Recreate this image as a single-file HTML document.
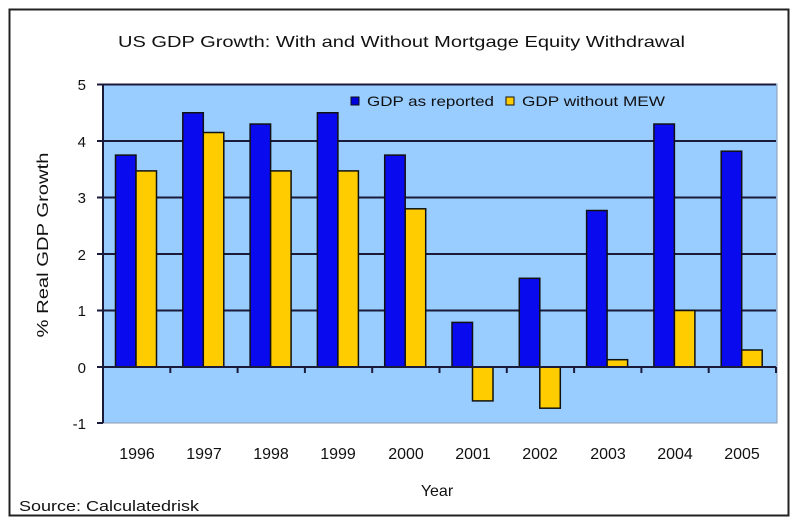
<!DOCTYPE html>
<html><head><meta charset="utf-8"><style>html,body{margin:0;padding:0;background:#fff}svg{display:block}</style></head>
<body>
<svg width="800" height="526" viewBox="0 0 800 526" xmlns="http://www.w3.org/2000/svg" font-family="Liberation Sans, sans-serif">
<rect x="0" y="0" width="800" height="526" fill="#fff"/>
<rect x="9.5" y="9.5" width="779" height="506" fill="#fff" stroke="#222" stroke-width="2"/>
<text x="118" y="47" font-size="16" textLength="567" lengthAdjust="spacingAndGlyphs" fill="#111">US GDP Growth: With and Without Mortgage Equity Withdrawal</text>
<rect x="103" y="84" width="674" height="339" fill="#99ccff" stroke="#8a9bb0" stroke-width="1"/>
<g stroke="#1a1a3a" stroke-width="2">
<line x1="97" y1="84.5" x2="776" y2="84.5"/>
<line x1="97" y1="141" x2="776" y2="141"/>
<line x1="97" y1="197.5" x2="776" y2="197.5"/>
<line x1="97" y1="254" x2="776" y2="254"/>
<line x1="97" y1="310.5" x2="776" y2="310.5"/>
<line x1="97" y1="423" x2="103" y2="423"/>
<line x1="103" y1="84" x2="103" y2="423"/>
</g>
<g stroke="#111" stroke-width="1.5">
<rect x="115.5" y="155.1" width="20.5" height="211.9" fill="#0a0aee"/>
<rect x="136" y="170.9" width="20.5" height="196.1" fill="#ffcc00"/>
<rect x="182.8" y="112.75" width="20.5" height="254.25" fill="#0a0aee"/>
<rect x="203.3" y="132.5" width="20.5" height="234.5" fill="#ffcc00"/>
<rect x="250.1" y="124.05" width="20.5" height="242.95" fill="#0a0aee"/>
<rect x="270.6" y="170.9" width="20.5" height="196.1" fill="#ffcc00"/>
<rect x="317.4" y="112.75" width="20.5" height="254.25" fill="#0a0aee"/>
<rect x="337.9" y="170.9" width="20.5" height="196.1" fill="#ffcc00"/>
<rect x="384.7" y="155.1" width="20.5" height="211.9" fill="#0a0aee"/>
<rect x="405.2" y="208.8" width="20.5" height="158.2" fill="#ffcc00"/>
<rect x="452" y="322.4" width="20.5" height="44.6" fill="#0a0aee"/>
<rect x="472.5" y="367" width="20.5" height="33.9" fill="#ffcc00"/>
<rect x="519.3" y="278.3" width="20.5" height="88.7" fill="#0a0aee"/>
<rect x="539.8" y="367" width="20.5" height="41.2" fill="#ffcc00"/>
<rect x="586.6" y="210.5" width="20.5" height="156.5" fill="#0a0aee"/>
<rect x="607.1" y="359.7" width="20.5" height="7.3" fill="#ffcc00"/>
<rect x="653.9" y="124.05" width="20.5" height="242.95" fill="#0a0aee"/>
<rect x="674.4" y="310.5" width="20.5" height="56.5" fill="#ffcc00"/>
<rect x="721.2" y="151.2" width="20.5" height="215.8" fill="#0a0aee"/>
<rect x="741.7" y="350" width="20.5" height="17" fill="#ffcc00"/>
</g>
<line x1="97" y1="367" x2="776" y2="367" stroke="#1a1a3a" stroke-width="2"/>
<g stroke="#1a1a3a" stroke-width="2">
<line x1="170.3" y1="367" x2="170.3" y2="373"/><line x1="237.6" y1="367" x2="237.6" y2="373"/>
<line x1="304.9" y1="367" x2="304.9" y2="373"/><line x1="372.2" y1="367" x2="372.2" y2="373"/>
<line x1="439.5" y1="367" x2="439.5" y2="373"/><line x1="506.8" y1="367" x2="506.8" y2="373"/>
<line x1="574.1" y1="367" x2="574.1" y2="373"/><line x1="641.4" y1="367" x2="641.4" y2="373"/>
<line x1="708.7" y1="367" x2="708.7" y2="373"/><line x1="776" y1="367" x2="776" y2="373"/>
</g>
<g font-size="15" fill="#111" text-anchor="end">
<text x="86" y="90">5</text><text x="86" y="147">4</text><text x="86" y="203">3</text>
<text x="86" y="260">2</text><text x="86" y="316">1</text><text x="86" y="373">0</text><text x="86" y="429">-1</text>
</g>
<g font-size="16" fill="#111" text-anchor="middle">
<text x="137" y="459">1996</text><text x="204" y="459">1997</text><text x="271" y="459">1998</text>
<text x="338" y="459">1999</text><text x="406" y="459">2000</text><text x="473" y="459">2001</text>
<text x="540" y="459">2002</text><text x="608" y="459">2003</text><text x="675" y="459">2004</text>
<text x="742" y="459">2005</text>
<text x="437" y="496">Year</text>
</g>
<text x="0" y="0" transform="translate(48,245) rotate(-90)" font-size="16" text-anchor="middle" fill="#111" textLength="185" lengthAdjust="spacingAndGlyphs">% Real GDP Growth</text>
<text x="19" y="511" font-size="15" fill="#111" textLength="180" lengthAdjust="spacingAndGlyphs">Source:  Calculatedrisk</text>
<rect x="351" y="97" width="8" height="8" fill="#0000dd" stroke="#111"/>
<text x="367" y="106" font-size="14" fill="#111" textLength="127" lengthAdjust="spacingAndGlyphs">GDP as reported</text>
<rect x="506" y="97" width="8" height="8" fill="#ffcc00" stroke="#111"/>
<text x="522" y="106" font-size="14" fill="#111" textLength="143" lengthAdjust="spacingAndGlyphs">GDP without MEW</text>
</svg>
</body></html>
